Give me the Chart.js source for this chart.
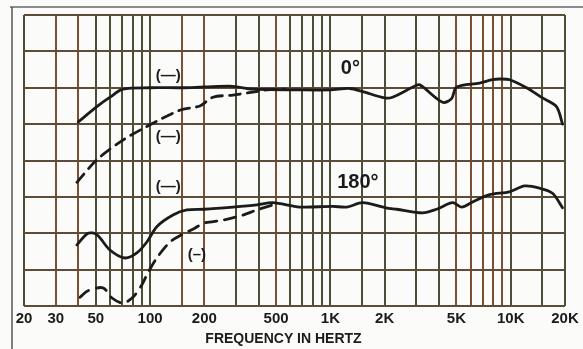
<!DOCTYPE html>
<html>
<head>
<meta charset="utf-8">
<script src="https://cdn.jsdelivr.net/npm/chart.js@4.4.0/dist/chart.umd.min.js"></script>
<style>
  html, body { margin: 0; padding: 0; background: #fbfbfa; }
  #wrap { width: 583px; height: 349px; position: relative; }
</style>
</head>
<body>
<div id="wrap"><canvas id="respChart" width="583" height="349"></canvas></div>
<script>
// frequency response, 0 deg and 180 deg, values in dB (5 dB per division)
const freq0Solid = [40, 50.7, 60, 70.7, 100, 150, 200, 288, 371, 676, 1000, 1280, 1500, 2000, 2210, 2930, 3130, 4190, 4700, 5010, 6720, 7930, 8670, 9860, 12240, 15000, 17940, 19380];
const db0Solid   = [-14.7, -12.6, -11.3, -10.2, -10.0, -10.0, -9.9, -9.8, -10.2, -10.3, -10.3, -10.1, -10.5, -11.4, -11.3, -9.8, -9.6, -12.0, -11.5, -9.9, -9.35, -8.9, -8.8, -8.9, -10.0, -11.4, -12.6, -15.0];

const freq0Dash = [39.3, 50.7, 70.7, 100, 146, 189, 223, 288, 371, 444, 558];
const db0Dash   = [-23.0, -19.9, -17.2, -15.1, -13.1, -12.5, -11.3, -11.0, -10.6, -10.3, -10.2];

const freq180Solid = [39.3, 45.3, 50.7, 59.9, 72.5, 84.5, 96, 109, 134, 160, 200, 288, 391, 479, 676, 1030, 1231, 1510, 2028, 2330, 3248, 3882, 4764, 5341, 6146, 7634, 9860, 11936, 14450, 17050, 19380];
const db180Solid   = [-31.6, -30.0, -30.2, -32.3, -33.4, -32.7, -31.2, -29.1, -27.5, -26.8, -26.7, -26.4, -26.1, -25.8, -26.4, -26.3, -26.4, -25.8, -26.5, -26.7, -27.2, -26.7, -25.8, -26.4, -25.7, -24.7, -24.3, -23.5, -23.8, -24.5, -26.5];

const freq180Dash = [40.9, 45.3, 54.8, 61.5, 70.7, 80.3, 90, 97, 109, 129, 150, 177, 200, 253, 327, 391, 479];
const db180Dash   = [-38.8, -37.9, -37.5, -38.9, -39.6, -38.8, -37.1, -35.5, -33.4, -31.2, -30.2, -29.3, -28.6, -28.2, -27.5, -26.8, -26.1];

// log paper grid and the labelled ticks
const gridFreqs = [20, 30, 40, 50, 60, 70, 80, 90, 100, 150, 200, 300, 400, 500, 600, 700, 800, 900,
  1000, 1500, 2000, 3000, 4000, 5000, 6000, 7000, 8000, 9000, 10000, 15000, 20000];
const tickLabels = {20: '20', 30: '30', 50: '50', 100: '100', 200: '200', 500: '500',
  1000: '1K', 2000: '2K', 5000: '5K', 10000: '10K', 20000: '20K'};
const brownLines = [30, 40, 150, 200, 500, 5000, 6000, 7000, 8000, 9000];

const notes = [
  { text: '(—)', f: 126, db: -8.3, size: 15 },
  { text: '(—)', f: 126, db: -16.8, size: 15 },
  { text: '(—)', f: 126, db: -23.6, size: 15 },
  { text: '(–)', f: 182, db: -33.0, size: 15 },
  { text: '0°', f: 1290, db: -7.4, size: 20 },
  { text: '180°', f: 1420, db: -23.0, size: 20 }
];

const pts = (xs, ys) => xs.map((x, i) => ({ x: x, y: ys[i] }));
const ink = '#1b1b1b';
const font = '"Liberation Sans", Arial, sans-serif';

const paperPlugin = {
  id: 'paper',
  beforeDraw(chart) {
    const c = chart.ctx;
    c.save();
    c.fillStyle = '#fbfbfa';
    c.fillRect(0, 0, chart.width, chart.height);
    // scanned frame
    c.strokeStyle = '#8c8c8c';
    c.lineWidth = 2;
    c.beginPath();
    c.moveTo(10, 7); c.lineTo(583, 7);
    c.stroke();
    c.strokeStyle = '#555';
    c.lineWidth = 1.5;
    c.beginPath();
    c.moveTo(12, 7); c.lineTo(12, 349);
    c.stroke();
    c.restore();
  },
  afterDraw(chart) {
    const c = chart.ctx;
    const xs = chart.scales.x, ys = chart.scales.y;
    c.save();
    c.fillStyle = ink;
    c.textAlign = 'center';
    c.textBaseline = 'middle';
    notes.forEach(n => {
      c.font = 'bold ' + n.size + 'px ' + font;
      c.fillText(n.text, xs.getPixelForValue(n.f), ys.getPixelForValue(n.db));
    });
    c.font = 'bold 14px ' + font;
    const a = chart.chartArea;
    c.fillText('FREQUENCY IN HERTZ', (a.left + a.right) / 2 - 11, 339);
    c.restore();
  }
};

new Chart(document.getElementById('respChart'), {
  type: 'line',
  data: {
    datasets: [
      { data: pts(freq0Solid, db0Solid), borderColor: ink, borderWidth: 2.8 },
      { data: pts(freq0Dash, db0Dash), borderColor: ink, borderWidth: 2.8, borderDash: [11, 7] },
      { data: pts(freq180Solid, db180Solid), borderColor: ink, borderWidth: 2.8 },
      { data: pts(freq180Dash, db180Dash), borderColor: ink, borderWidth: 2.8, borderDash: [11, 8] }
    ]
  },
  options: {
    responsive: false,
    animation: false,
    events: [],
    elements: { point: { radius: 0 }, line: { tension: 0.3, fill: false, borderCapStyle: 'round' } },
    layout: { padding: { left: 24, right: 18, top: 15, bottom: 0 } },
    plugins: { legend: { display: false }, tooltip: { enabled: false } },
    scales: {
      x: {
        type: 'logarithmic',
        min: 20,
        max: 20000,
        afterBuildTicks: s => { s.ticks = gridFreqs.map(v => ({ value: v })); },
        afterFit: s => { s.height = 43; },
        grid: {
          drawTicks: false,
          lineWidth: 2,
          color: c => brownLines.includes(c.tick && c.tick.value) ? '#7d4f33' : '#4c4f37'
        },
        border: { display: false },
        ticks: {
          autoSkip: false,
          maxRotation: 0,
          padding: 4,
          color: ink,
          font: { family: font, size: 15, weight: 'bold' },
          callback: v => tickLabels[v] || ''
        }
      },
      y: {
        min: -40,
        max: 0,
        afterFit: s => { s.width = 0; },
        grid: { drawTicks: false, lineWidth: 2, color: '#5c4c38' },
        border: { display: false },
        ticks: { display: false, stepSize: 5 }
      }
    }
  },
  plugins: [paperPlugin]
});
</script>
</body>
</html>
